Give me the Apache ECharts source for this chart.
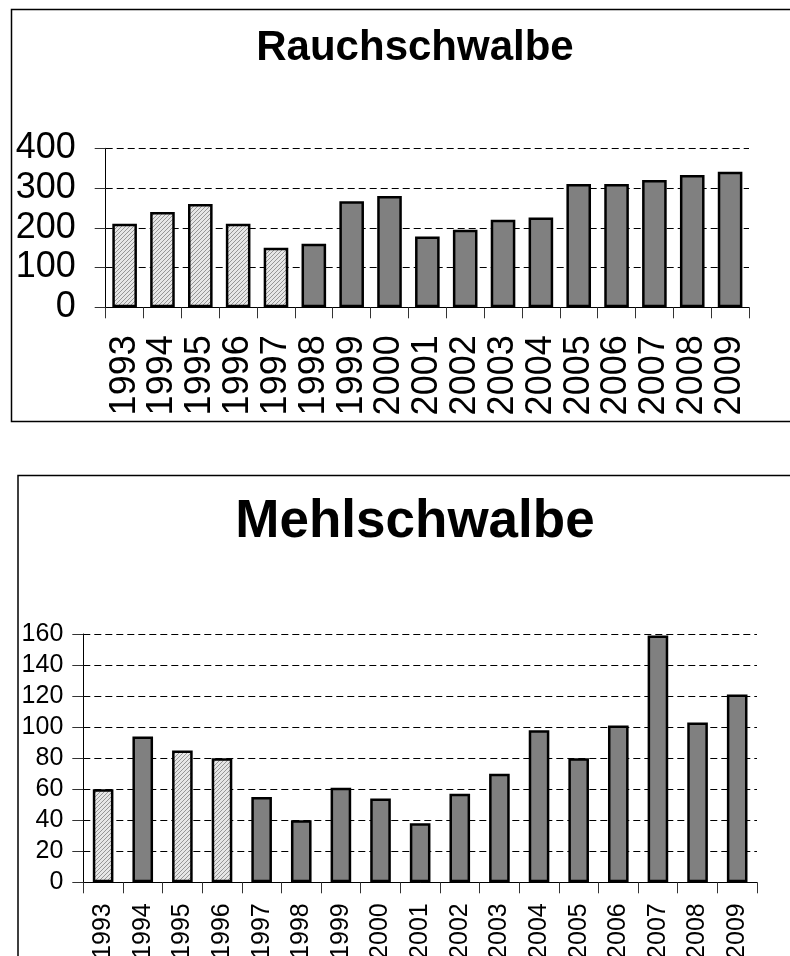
<!DOCTYPE html>
<html>
<head>
<meta charset="utf-8">
<script src="https://cdn.jsdelivr.net/npm/echarts@6/dist/echarts.min.js"></script>
<style>
  html, body { margin: 0; padding: 0; background: #fff; }
  #chart { width: 790px; height: 956px; }
</style>
</head>
<body>
<div id="chart"></div>
<script>
// Jahre (Kategorien)
const years = ['1993', '1994', '1995', '1996', '1997', '1998', '1999', '2000', '2001',
  '2002', '2003', '2004', '2005', '2006', '2007', '2008', '2009']
// Rauchschwalbe
const rauchValues = [210, 240, 260, 210, 150, 160, 267, 280, 178, 195, 220, 226, 310, 310, 320, 333, 341]
const rauchHatched = ['1993', '1994', '1995', '1996', '1997']
const rauchTicks = [0, 100, 200, 300, 400]
// Mehlschwalbe
const mehlValues = [60, 94, 85, 80, 55, 40, 61, 54, 38, 57, 70, 98, 80, 101, 159, 103, 121]
const mehlHatched = ['1993', '1995', '1996']
const mehlTicks = [0, 20, 40, 60, 80, 100, 120, 140, 160]

const FONT = 'Liberation Sans, Arial, sans-serif'

// Schraffur als Muster
const pat = document.createElement('canvas')
pat.width = 4
pat.height = 4
const pctx = pat.getContext('2d')
pctx.fillStyle = '#e6e6e6'
pctx.fillRect(0, 0, 4, 4)
pctx.fillStyle = '#959595'
for (let i = 0; i < 4; i++) pctx.fillRect(i, 3 - i, 1, 1)
const hatch = { image: pat, repeat: 'repeat' }

function barData(values, hatched) {
  return values.map((v, i) => ({
    value: v,
    itemStyle: { color: hatched.includes(years[i]) ? hatch : '#808080' },
  }))
}

function yAxis(idx, ticks, fontSize, margin) {
  return {
    type: 'value',
    gridIndex: idx,
    min: ticks[0],
    max: ticks[ticks.length - 1],
    interval: ticks[1] - ticks[0],
    axisLine: { show: true, lineStyle: { color: '#000', width: 1 } },
    axisTick: { show: true, length: 11, lineStyle: { color: '#333' } },
    axisLabel: { color: '#000', fontSize: fontSize, fontFamily: FONT, margin: margin },
    splitLine: { show: true, lineStyle: { color: '#000', type: [7, 4], width: 1 } },
  }
}

function xAxis(idx, fontSize, margin) {
  return {
    type: 'category',
    gridIndex: idx,
    data: years,
    boundaryGap: true,
    axisLine: { show: true, lineStyle: { color: '#000', width: 1 } },
    axisTick: { show: true, length: 11, interval: 0, lineStyle: { color: '#333' } },
    axisLabel: { color: '#000', fontSize: fontSize, fontFamily: FONT, rotate: 90, interval: 0, margin: margin },
  }
}

let myChart = echarts.init(document.getElementById('chart'), null, { renderer: 'canvas' })

let option = {
  animation: false,
  backgroundColor: '#fff',
  title: [
    {
      text: 'Rauchschwalbe',
      left: 410,
      textAlign: 'center',
      top: 22,
      textStyle: { fontSize: 42, fontWeight: 'bold', color: '#000', fontFamily: FONT },
    },
    {
      text: 'Mehlschwalbe',
      left: 410,
      textAlign: 'center',
      top: 491,
      textStyle: { fontSize: 53, fontWeight: 'bold', color: '#000', fontFamily: FONT },
    },
  ],
  graphic: [
    {
      type: 'rect',
      shape: { x: 11.5, y: 9.5, width: 800, height: 412 },
      style: { fill: null, stroke: '#000', lineWidth: 1.5 },
      z: -1,
    },
    {
      type: 'rect',
      shape: { x: 18, y: 475.5, width: 800, height: 600 },
      style: { fill: null, stroke: '#000', lineWidth: 1.5 },
      z: -1,
    },
  ],
  grid: [
    { left: 105.7, right: 41, top: 148.3, height: 159, outerBoundsMode: 'none' },
    { left: 83.3, right: 33, top: 634, height: 248.3, outerBoundsMode: 'none' },
  ],
  xAxis: [xAxis(0, 36, 28), xAxis(1, 25, 21)],
  yAxis: [yAxis(0, rauchTicks, 36, 30), yAxis(1, mehlTicks, 25, 20)],
  series: [
    {
      type: 'bar',
      xAxisIndex: 0,
      yAxisIndex: 0,
      barWidth: '65%',
      data: barData(rauchValues, rauchHatched),
      itemStyle: { borderColor: '#000', borderWidth: 2.5 },
    },
    {
      type: 'bar',
      xAxisIndex: 1,
      yAxisIndex: 1,
      barWidth: '52%',
      data: barData(mehlValues, mehlHatched),
      itemStyle: { borderColor: '#000', borderWidth: 2.5 },
    },
  ],
}
myChart.setOption(option)
</script>
</body>
</html>
